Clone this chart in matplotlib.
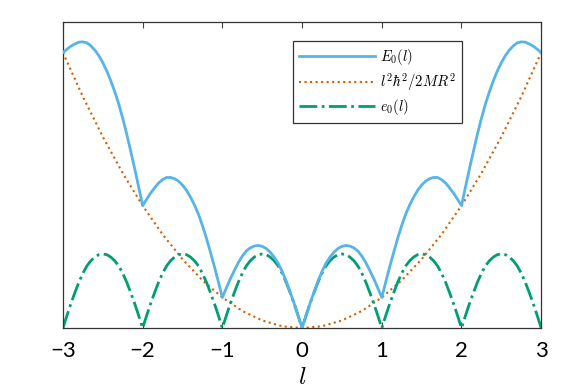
import numpy as np
import matplotlib.pyplot as plt
plt.switch_backend("agg")
plt.rcParams['mathtext.fontset'] = 'cm'

# values, l = 0 .. 3 in steps of 0.05 (the curves are symmetric in l)
l_half = np.round(np.arange(0, 3.001, 0.05), 2)

E0_half = [0.00, 0.41, 0.81, 1.18, 1.54, 1.85, 2.12, 2.32, 2.48, 2.60,
           2.67, 2.70, 2.68, 2.62, 2.52, 2.35, 2.14, 1.88, 1.61, 1.31,
           1.00, 1.51, 2.01, 2.48, 2.94, 3.35, 3.72, 4.02, 4.28, 4.50,
           4.67, 4.80, 4.88, 4.92, 4.92, 4.85, 4.74, 4.58, 4.41, 4.21,
           4.00, 4.61, 5.21, 5.78, 6.34, 6.85, 7.32, 7.72, 8.08, 8.40,
           8.67, 8.90, 9.08, 9.22, 9.32, 9.35, 9.34, 9.28, 9.21, 9.11,
           9.00]

e0_half = [0.00, 0.41, 0.80, 1.16, 1.50, 1.79, 2.03, 2.20, 2.32, 2.40,
           2.42, 2.40, 2.32, 2.20, 2.03, 1.79, 1.50, 1.16, 0.80, 0.41,
           0.00, 0.41, 0.80, 1.16, 1.50, 1.79, 2.03, 2.20, 2.32, 2.40,
           2.42, 2.40, 2.32, 2.20, 2.03, 1.79, 1.50, 1.16, 0.80, 0.41,
           0.00, 0.41, 0.80, 1.16, 1.50, 1.79, 2.03, 2.20, 2.32, 2.40,
           2.42, 2.40, 2.32, 2.20, 2.03, 1.79, 1.50, 1.16, 0.80, 0.41,
           0.00]

# free rotor energy l^2 hbar^2 / 2MR^2, l = 0 .. 3 step 0.25
lp_half = [0, 0.25, 0.5, 0.75, 1, 1.25, 1.5, 1.75, 2, 2.25, 2.5, 2.75, 3]
free_half = [0, 0.06, 0.25, 0.56, 1.00, 1.56, 2.25, 3.06, 4.00, 5.06, 6.25, 7.56, 9.00]

x_ticks = [-3, -2, -1, 0, 1, 2, 3]


def mirror_x(half):
    half = np.asarray(half, dtype=float)
    return np.concatenate([-half[:0:-1], half])


def mirror_y(half):
    half = np.asarray(half, dtype=float)
    return np.concatenate([half[:0:-1], half])


l = mirror_x(l_half)
lp = mirror_x(lp_half)

fig = plt.figure(figsize=(5.62, 3.92), dpi=100)
ax = fig.add_axes([0.112, 0.163, 0.851, 0.781])

ax.plot(l, mirror_y(E0_half), color='#56B4E9', linestyle='-', linewidth=2.0,
        label=r'$E_0(l)$', zorder=3)
ax.plot(lp, mirror_y(free_half), color='#D55E00', linestyle=':', linewidth=1.5,
        label=r'$l^2\hbar^2/2MR^2$', zorder=2)
ax.plot(l, mirror_y(e0_half), color='#009E73', linestyle='-.', linewidth=2.0,
        label=r'$e_0(l)$', zorder=2)

ax.set_xlim(-3, 3)
ax.set_ylim(0, 10)
ax.set_xticks(x_ticks)
ax.set_xticklabels([str(t).replace('-', '\u2212') for t in x_ticks],
                   fontsize=16, family='Lato')
ax.set_yticks([])
ax.tick_params(axis='x', direction='in', top=True, length=4, width=0.8,
               color='#444444', pad=9)
for sp in ax.spines.values():
    sp.set_color('#333333')
    sp.set_linewidth(0.9)

ax.set_xlabel(r'$l$', fontsize=18, labelpad=3)

leg = ax.legend(loc='upper right', bbox_to_anchor=(0.835, 0.938), borderaxespad=0,
                fontsize=10.5, handlelength=5.2, handletextpad=0.4, fancybox=False,
                framealpha=1, edgecolor='#333333', borderpad=0.4, labelspacing=0.3)
leg.get_frame().set_linewidth(0.9)

fig.savefig('out.png', dpi=100)
